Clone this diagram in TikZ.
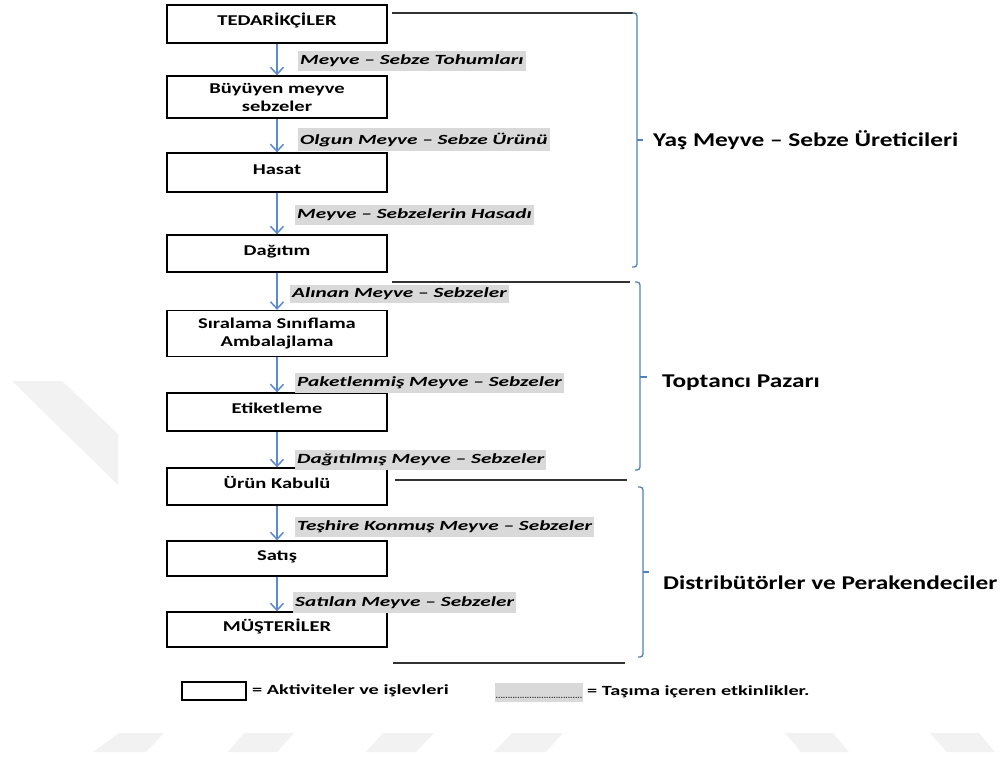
\documentclass[tikz,border=0pt]{standalone}
\usepackage{fontspec}
\setmainfont{Carlito}
\newfontfamily\boxfont[FakeStretch=1.37]{Carlito}
\newfontfamily\labelfont[FakeStretch=1.52]{Carlito}
\newfontfamily\groupfont[FakeStretch=1.3]{Carlito}
\newfontfamily\keyfont[FakeStretch=1.45]{Carlito}
\usetikzlibrary{arrows.meta}
\definecolor{arrowblue}{RGB}{91,139,206}
\definecolor{bracketblue}{RGB}{79,129,189}
\definecolor{labelgray}{RGB}{217,217,217}
\definecolor{markgray}{RGB}{242,242,242}
\definecolor{rulegray}{RGB}{50,50,50}
\begin{document}
\begin{tikzpicture}[x=1pt,y=-1pt,
  stepbox/.style={draw=black, line width=1.3pt, minimum width=220pt, inner sep=0pt,
    font=\boxfont\fontsize{15}{18}\selectfont\bfseries},
  oneline/.style={text height=10pt, text depth=6.5pt},
  twoline/.style={align=center},
  flowlabel/.style={fill=labelgray, anchor=west, inner xsep=2pt, inner ysep=0pt,
    minimum height=20pt, font=\labelfont\fontsize{14}{16}\selectfont\bfseries\itshape},
  flow/.style={draw=arrowblue, line width=1.8pt,
    -{Straight Barb[length=7pt,width=13pt,line width=1.5pt]}},
  rule/.style={draw=rulegray, line width=1.3pt},
  bracket/.style={draw=bracketblue, line width=1.3pt, rounded corners=3pt},
  grouplabel/.style={anchor=west, inner sep=0pt, font=\groupfont\fontsize{19.5}{22}\selectfont\bfseries},
  keytext/.style={anchor=west, inner sep=0pt, font=\keyfont\fontsize{14}{16}\selectfont\bfseries},
  watermark/.style={fill=markgray, draw=none}
]
\path[use as bounding box] (0,0) rectangle (1002,756);

% faint background stripes
\fill[watermark] (12,381) -- (62,381) -- (118,434) -- (118,485) -- cycle;
\fill[watermark] (119,733) -- (164,733) -- (146,752) -- (93,752) -- cycle;
\fill[watermark] (244,733) -- (294,733) -- (277,752) -- (228,752) -- cycle;
\fill[watermark] (383,733) -- (434,733) -- (416,752) -- (366,752) -- cycle;
\fill[watermark] (512,733) -- (563,733) -- (546,752) -- (494,752) -- cycle;
\fill[watermark] (785,733) -- (833,733) -- (849,752) -- (801,752) -- cycle;
\fill[watermark] (930,733) -- (979,733) -- (995,752) -- (947,752) -- cycle;

% activity boxes
\node[stepbox, oneline, minimum height=38pt] (b1) at (277,24)    {TEDARİKÇİLER};
\node[stepbox, twoline, minimum height=42pt] (b2) at (277,97)    {Büyüyen meyve\\sebzeler};
\node[stepbox, oneline, minimum height=39pt] (b3) at (277,172.5) {Hasat};
\node[stepbox, oneline, minimum height=37pt] (b4) at (277,253.5) {Dağıtım};
\node[stepbox, twoline, minimum height=46pt] (b5) at (277,333.5) {Sıralama Sınıflama\\Ambalajlama};
\node[stepbox, oneline, minimum height=38pt] (b6) at (277,412)   {Etiketleme};
\node[stepbox, oneline, minimum height=37pt] (b7) at (277,486.5) {Ürün Kabulü};
\node[stepbox, oneline, minimum height=35pt] (b8) at (277,558.5) {Satış};
\node[stepbox, oneline, minimum height=35pt] (b9) at (277,629.5) {MÜŞTERİLER};

% flows between activities
\draw[flow] (b1) -- (b2);
\draw[flow] (b2) -- (b3);
\draw[flow] (b3) -- (b4);
\draw[flow] (b4) -- (b5);
\draw[flow] (b5) -- (b6);
\draw[flow] (b6) -- (b7);
\draw[flow] (b7) -- (b8);
\draw[flow] (b8) -- (b9);

% transport labels
\node[flowlabel, minimum height=20pt] (l1) at (298,61)    {Meyve – Sebze Tohumları};
\node[flowlabel, minimum height=23pt] (l2) at (298,139.5) {Olgun Meyve – Sebze Ürünü};
\node[flowlabel, minimum height=20pt] (l3) at (295,215)   {Meyve – Sebzelerin Hasadı};
\node[flowlabel, minimum height=18pt] (l4) at (290,293.5) {Alınan Meyve – Sebzeler};
\node[flowlabel, minimum height=20pt] (l5) at (295,383)   {Paketlenmiş Meyve – Sebzeler};
\node[flowlabel, minimum height=20pt] (l6) at (295,460)   {Dağıtılmış Meyve – Sebzeler};
\node[flowlabel, minimum height=20pt] (l7) at (295,527)   {Teşhire Konmuş Meyve – Sebzeler};
\node[flowlabel, minimum height=21pt] (l8) at (293,602.5) {Satılan Meyve – Sebzeler};

% group brackets
\coordinate (r1a) at (392,13);  \coordinate (r1b) at (633,13);
\coordinate (r2a) at (392,282); \coordinate (r2b) at (630,282);
\coordinate (r3a) at (395,480); \coordinate (r3b) at (627,480);
\coordinate (r4a) at (393,663); \coordinate (r4b) at (625,663);
\draw[rule] (r1a) -- (r1b);
\draw[rule] (r2a) -- (r2b);
\draw[rule] (r3a) -- (r3b);
\draw[rule] (r4a) -- (r4b);

\draw[bracket] (632,13) -- (637,13) -- (637,267) -- (632,267);
\draw[bracket] (635,282) -- (640,282) -- (640,470) -- (635,470);
\draw[bracket] (638,487) -- (643,487) -- (643,657) -- (638,657);
\coordinate (m1) at (637,140); \coordinate (m2) at (640,377); \coordinate (m3) at (643,572);
\node[grouplabel] (g1) at (653,140) {Yaş Meyve – Sebze Üreticileri};
\node[grouplabel] (g2) at (662,383) {Toptancı Pazarı};
\node[grouplabel] (g3) at (663,583) {Distribütörler ve Perakendeciler};
\draw[bracket] (m1) -- ++(6,0);
\draw[bracket] (m2) -- ++(7,0);
\draw[bracket] (m3) -- ++(6,0);

% key
\node[draw=black, line width=1.2pt, minimum width=64pt, minimum height=18pt, inner sep=0pt] (k1) at (214,691) {};
\node[keytext] (k1t) at (252,691) {= Aktiviteler ve işlevleri};
\node[fill=labelgray, minimum width=88pt, minimum height=19pt, inner sep=0pt,
  text height=12pt, text depth=0pt,
  font=\fontsize{9}{9}\selectfont\bfseries, text=rulegray] (k2) at (539,692.5) {....................................};
\node[keytext] (k2t) at (587,692) {= Taşıma içeren etkinlikler.};
\end{tikzpicture}
\end{document}
